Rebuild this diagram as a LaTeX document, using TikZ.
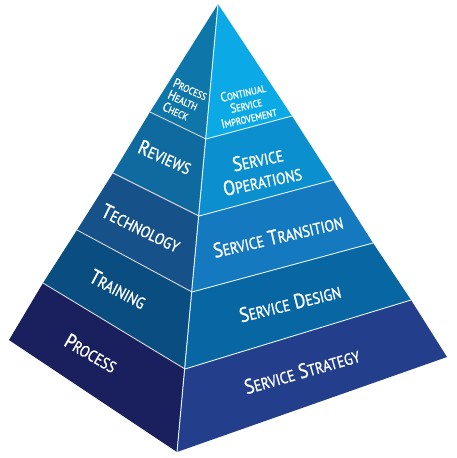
\documentclass[tikz,border=0pt]{standalone}
\usepackage{fontspec}
\setmainfont{PT Sans}[FakeStretch=0.86, FakeBold=1.2, AutoFakeBold=1.2]
\newcommand{\SCb}[2]{{\fontsize{20.5}{22}\selectfont #1}{\fontsize{16}{18}\selectfont #2}}
\newcommand{\SCs}[2]{{\fontsize{13}{14}\selectfont #1}{\fontsize{10}{12}\selectfont #2}}
\definecolor{lA}{HTML}{0F76AA}
\definecolor{lB}{HTML}{0F6AA0}
\definecolor{lC}{HTML}{165189}
\definecolor{lD}{HTML}{0A4D80}
\definecolor{lE}{HTML}{1A1F5E}
\definecolor{rA}{HTML}{0BAAE6}
\definecolor{rB}{HTML}{0B8FCF}
\definecolor{rC}{HTML}{1479BE}
\definecolor{rD}{HTML}{0866A2}
\definecolor{rE}{HTML}{233F8C}
\tikzset{
  lbl/.style={text=white, inner sep=0pt, font=\fontsize{20.5}{22}\selectfont},
  lbls/.style={text=white, inner sep=0pt, font=\fontsize{13}{13}\selectfont},
  sepl/.style={draw=white!70!gray, line width=0.9pt},
  sepr/.style={draw=white!90!cyan, line width=0.9pt},
}
\begin{document}
\begin{tikzpicture}[x=1pt,y=-1pt]
\useasboundingbox (0,0) rectangle (457,458);
\coordinate (A) at (218,4);
\coordinate (L1) at (150,112);
\coordinate (L2) at (113,173);
\coordinate (L3) at (77,230);
\coordinate (L4) at (43,283);
\coordinate (L5) at (9,340);
\coordinate (F1) at (206,139);
\coordinate (F2) at (199,216);
\coordinate (F3) at (192,292);
\coordinate (F4) at (185,369);
\coordinate (F5) at (177,452);
\coordinate (R1) at (292,116);
\coordinate (R2) at (333,180);
\coordinate (R3) at (373,243);
\coordinate (R4) at (411,300);
\coordinate (R5) at (447,357);
% left face
\fill[lA] (A) -- (L1) -- (F1) -- cycle;
\fill[lB] (L1) -- (L2) -- (F2) -- (F1) -- cycle;
\fill[lC] (L2) -- (L3) -- (F3) -- (F2) -- cycle;
\fill[lD] (L3) -- (L4) -- (F4) -- (F3) -- cycle;
\fill[lE] (L4) -- (L5) -- (F5) -- (F4) -- cycle;
% right face
\fill[rA] (A) -- (F1) -- (R1) -- cycle;
\fill[rB] (F1) -- (F2) -- (R2) -- (R1) -- cycle;
\fill[rC] (F2) -- (F3) -- (R3) -- (R2) -- cycle;
\fill[rD] (F3) -- (F4) -- (R4) -- (R3) -- cycle;
\fill[rE] (F4) -- (F5) -- (R5) -- (R4) -- cycle;
% separators
\draw[sepl] (L1) -- (F1);
\draw[sepl] (L2) -- (F2);
\draw[sepl] (L3) -- (F3);
\draw[sepl] (L4) -- (F4);
\draw[sepr] (F1) -- (R1);
\draw[sepr] (F2) -- (R2);
\draw[sepr] (F3) -- (R3);
\draw[sepr] (F4) -- (R4);
\draw[white!85!cyan, line width=1pt] (A) -- (F5);
% labels left
\node[lbls, rotate=-24, align=left] (phc) at (185,101) {\SCs{P}{ROCESS}\\\SCs{H}{EALTH}\\\SCs{C}{HECK}};
\node[lbl, rotate=-24] (rev) at (165,157) {\SCb{R}{EVIEWS}};
\node[lbl, rotate=-26] (tec) at (141,228) {\SCb{T}{ECHNOLOGY}};
\node[lbl, rotate=-28] (tra) at (118,289) {\SCb{T}{RAINING}};
\node[lbl, rotate=-30] (pro) at (91,353) {\SCb{P}{ROCESS}};
% labels right
\node[lbls, rotate=13, align=center] (csi) at (246,105) {\SCs{C}{ONTINUAL}\\\SCs{S}{ERVICE}\\\SCs{I}{MPROVEMENT}};
\node[lbl, rotate=12, align=center, font=\fontsize{20.5}{22}\selectfont] (ops) at (260,170) {\SCb{S}{ERVICE}\\\SCb{O}{PERATIONS}};
\node[lbl, rotate=13] (trn) at (278,236) {\SCb{S}{ERVICE} \SCb{T}{RANSITION}};
\node[lbl, rotate=14] (des) at (290,303) {\SCb{S}{ERVICE} \SCb{D}{ESIGN}};
\node[lbl, rotate=16] (str) at (302,371) {\SCb{S}{ERVICE} \SCb{S}{TRATEGY}};
\end{tikzpicture}
\end{document}
